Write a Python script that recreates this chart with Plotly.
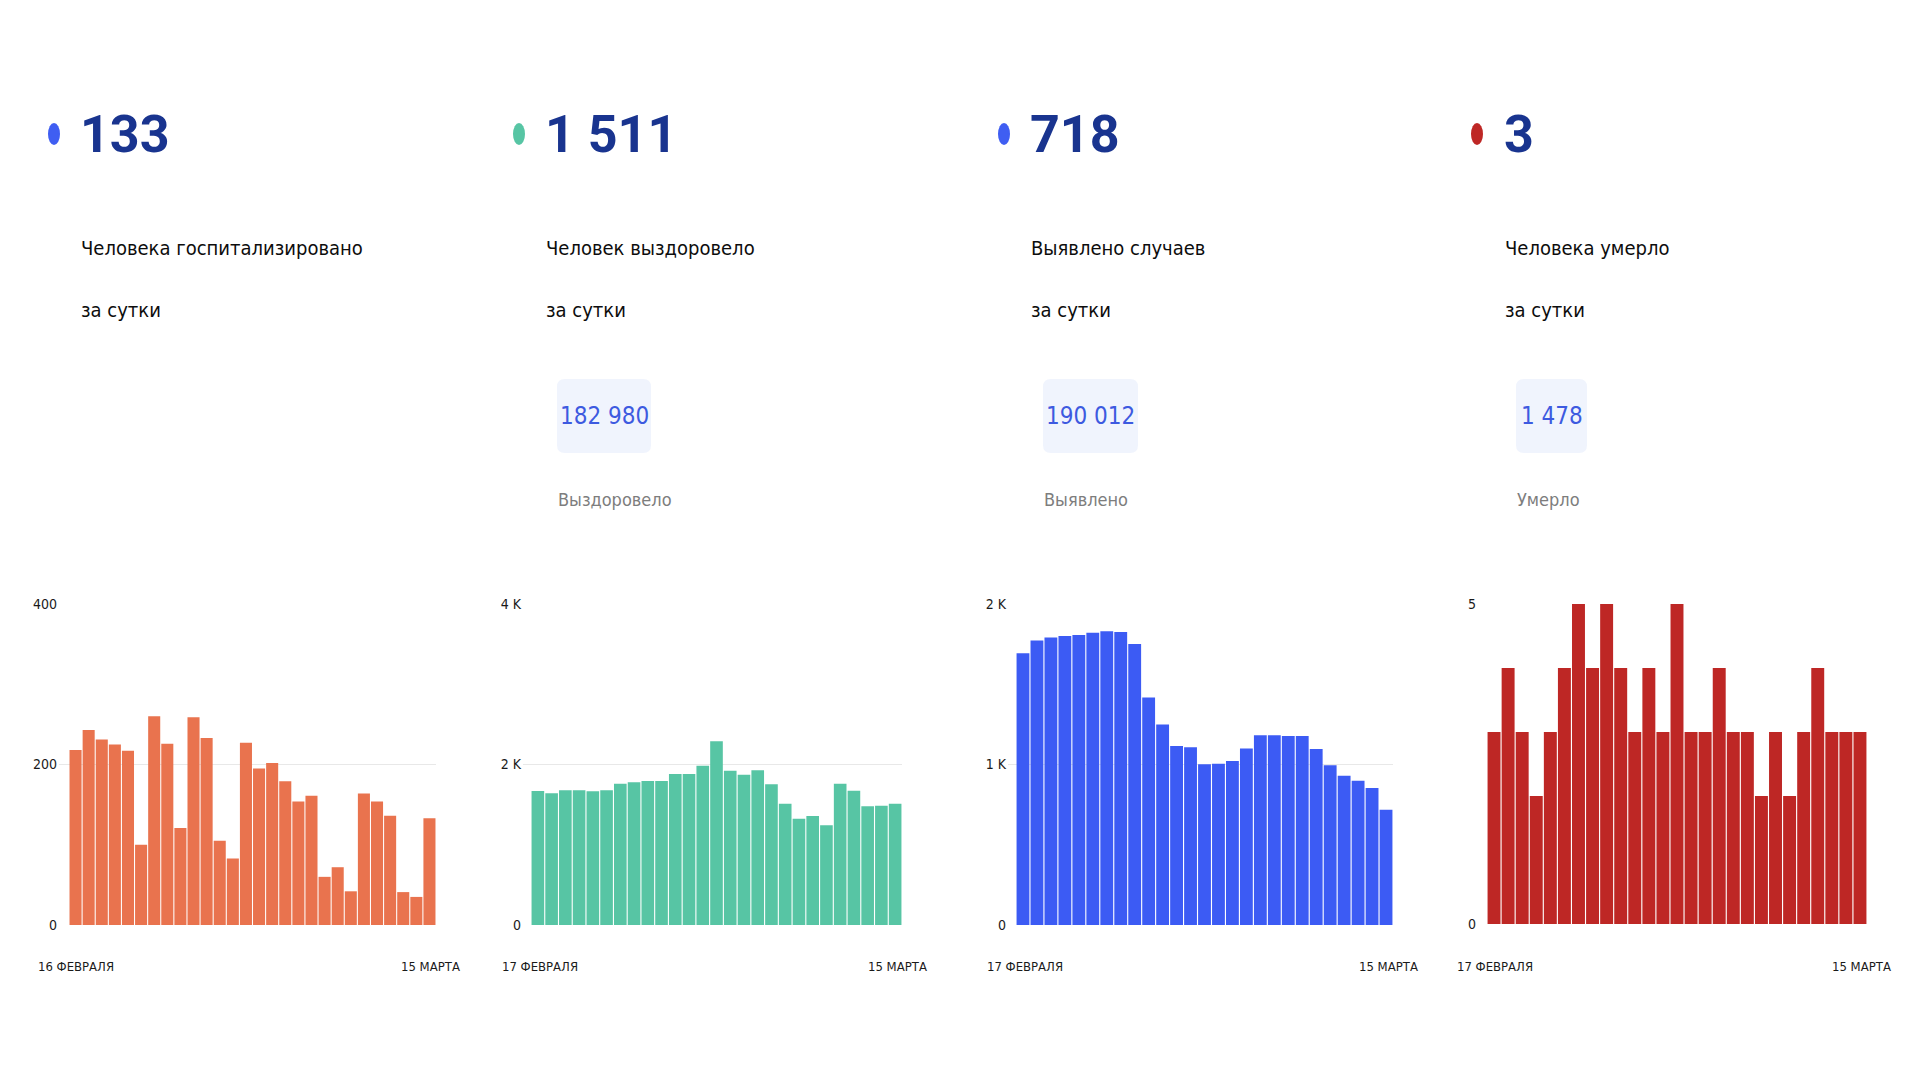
import plotly.graph_objects as go

W, H = 1920, 1080

# ---------------- data ----------------
hosp_values = [218, 243, 231, 225, 217, 100, 260, 226, 121, 259, 233, 105, 83, 227,
               195, 202, 179, 154, 161, 60, 72, 42, 164, 154, 136, 41, 35, 133]
recov_values = [1670, 1641, 1678, 1678, 1666, 1678, 1761, 1778, 1794, 1794, 1882, 1882, 1985, 2289,
                1923, 1873, 1927, 1753, 1512, 1325, 1358, 1242, 1761, 1674, 1479, 1487, 1511]
cases_values = [1693, 1772, 1792, 1801, 1807, 1821, 1830, 1826, 1751, 1418, 1250, 1115, 1107, 1001,
                1005, 1022, 1099, 1182, 1182, 1178, 1178, 1097, 995, 930, 899, 854, 718]
death_values = [3, 4, 3, 2, 3, 4, 5, 4, 5, 4, 3, 4, 3, 5, 3, 3, 4, 3, 3, 2, 3, 2, 3, 4, 3, 3, 3]

big_numbers = ["133", "1 511", "718", "3"]
labels_line1 = ["Человека госпитализировано", "Человек выздоровело", "Выявлено случаев", "Человека умерло"]
labels_line2 = ["за сутки", "за сутки", "за сутки", "за сутки"]
totals = [None, "182 980", "190 012", "1 478"]
total_labels = [None, "Выздоровело", "Выявлено", "Умерло"]
start_labels = ["16 ФЕВРАЛЯ", "17 ФЕВРАЛЯ", "17 ФЕВРАЛЯ", "17 ФЕВРАЛЯ"]
end_labels = ["15 МАРТА", "15 МАРТА", "15 МАРТА", "15 МАРТА"]
y_tickvals = [[0, 200, 400], [0, 2000, 4000], [0, 1000, 2000], [0, 5]]
y_ticktext = [["0", "200", "400"], ["0", "2 K", "4 K"], ["0", "1 K", "2 K"], ["0", "5"]]
series = [hosp_values, recov_values, cases_values, death_values]

# ---------------- styles ----------------
bar_colors = ["#E9734E", "#57C5A4", "#3C5BF4", "#BE2725"]
dot_colors = ["#3F5EF2", "#57C5A4", "#3F5EF2", "#BE2725"]
NAVY = "#19348F"
FONT = "DejaVu Sans Condensed, Liberation Sans Narrow, Roboto, sans-serif"
BIG_FONT = "Roboto, Liberation Sans, sans-serif"

# layout geometry (pixels)
grid_x = [(59, 436), (523, 902), (1008, 1393), (1478, 1867)]
bar_x0 = [69, 531, 1016, 1487]
plot_y = [(604, 925), (604, 925), (604, 925), (604, 924)]
col_x = [(54, 80), (519, 545), (1004, 1030), (1477, 1504)]
pill_x = [None, (557, 651), (1043, 1138), (1516, 1587)]
date_left = [36, 500, 985, 1455]
date_right = [462, 929, 1420, 1893]


def px(x):
    return x / W


def py(y):
    return 1 - y / H


fig = go.Figure()
annotations = []
shapes = []

for i, vals in enumerate(series):
    n = len(vals)
    ax = "" if i == 0 else str(i + 1)
    gx0, gx1 = grid_x[i]
    bw = (gx1 - bar_x0[i]) / n
    pad = (bar_x0[i] - gx0) / bw
    fig.add_trace(go.Bar(
        x=list(range(n)), y=vals,
        marker=dict(color=bar_colors[i], line=dict(width=0)),
        xaxis="x" + ax, yaxis="y" + ax, showlegend=False, hoverinfo="y",
    ))
    fig.layout["xaxis" + ax] = dict(
        domain=[px(gx0), px(gx1)], range=[-0.5 - pad, n - 0.5],
        showgrid=False, zeroline=False, showticklabels=False, ticks="",
        anchor="y" + ax, fixedrange=True, automargin=False,
    )
    fig.layout["yaxis" + ax] = dict(
        domain=[py(plot_y[i][1]), py(plot_y[i][0])],
        range=[0, y_tickvals[i][-1]],
        tickvals=y_tickvals[i], ticktext=y_ticktext[i],
        showgrid=True, gridcolor="#E8E8E8", gridwidth=1,
        zeroline=False, showline=False, ticks="",
        ticklabelstandoff=1, automargin=False,
        tickfont=dict(family=FONT, size=14, color="#1A1A1A"),
        anchor="x" + ax, fixedrange=True,
    )

    # date labels under the chart
    annotations.append(dict(x=px(date_left[i]), y=py(966), xref="paper", yref="paper",
                            text=start_labels[i], showarrow=False, xanchor="left", yanchor="middle",
                            font=dict(family=FONT, size=13, color="#1A1A1A")))
    annotations.append(dict(x=px(date_right[i]), y=py(966), xref="paper", yref="paper",
                            text=end_labels[i], showarrow=False, xanchor="right", yanchor="middle",
                            font=dict(family=FONT, size=13, color="#1A1A1A")))

    # header
    dx, tx = col_x[i]
    shapes.append(dict(type="circle", xref="paper", yref="paper",
                       x0=px(dx - 6), x1=px(dx + 6), y0=py(145), y1=py(123),
                       fillcolor=dot_colors[i], line=dict(width=0)))
    annotations.append(dict(x=px(tx - 2), y=py(134), xref="paper", yref="paper",
                            text="<b>" + big_numbers[i] + "</b>", showarrow=False,
                            xanchor="left", yanchor="middle",
                            font=dict(family=BIG_FONT, size=52, color=NAVY)))
    annotations.append(dict(x=px(tx - 1), y=py(248), xref="paper", yref="paper",
                            text=labels_line1[i], showarrow=False, xanchor="left", yanchor="middle",
                            font=dict(family=FONT, size=20, color="#0D0D0D")))
    annotations.append(dict(x=px(tx - 1), y=py(310), xref="paper", yref="paper",
                            text=labels_line2[i], showarrow=False, xanchor="left", yanchor="middle",
                            font=dict(family=FONT, size=20, color="#0D0D0D")))

    if totals[i] is not None:
        x0, x1 = pill_x[i]
        y0, y1 = 379, 453
        r = 8
        path = (f"M {px(x0 + r)},{py(y0)} L {px(x1 - r)},{py(y0)} "
                f"Q {px(x1)},{py(y0)} {px(x1)},{py(y0 + r)} "
                f"L {px(x1)},{py(y1 - r)} Q {px(x1)},{py(y1)} {px(x1 - r)},{py(y1)} "
                f"L {px(x0 + r)},{py(y1)} Q {px(x0)},{py(y1)} {px(x0)},{py(y1 - r)} "
                f"L {px(x0)},{py(y0 + r)} Q {px(x0)},{py(y0)} {px(x0 + r)},{py(y0)} Z")
        shapes.append(dict(type="path", xref="paper", yref="paper", path=path,
                           fillcolor="#F0F4FD", line=dict(width=0), layer="below"))
        annotations.append(dict(x=px((x0 + x1) / 2), y=py(416), xref="paper", yref="paper",
                                text=totals[i], showarrow=False, xanchor="center", yanchor="middle",
                                font=dict(family=FONT, size=24, color="#3D5AE0")))
        annotations.append(dict(x=px(x0 - 1), y=py(499), xref="paper", yref="paper",
                                text=total_labels[i], showarrow=False, xanchor="left", yanchor="middle",
                                font=dict(family=FONT, size=18, color="#7D7D7D")))

fig.update_layout(
    width=W, height=H,
    margin=dict(l=0, r=0, t=0, b=0, pad=0),
    paper_bgcolor="white", plot_bgcolor="white",
    bargap=0.08,
    annotations=annotations, shapes=shapes,
    font=dict(family=FONT),
)

fig.write_html("out.html", config={"displayModeBar": False})
